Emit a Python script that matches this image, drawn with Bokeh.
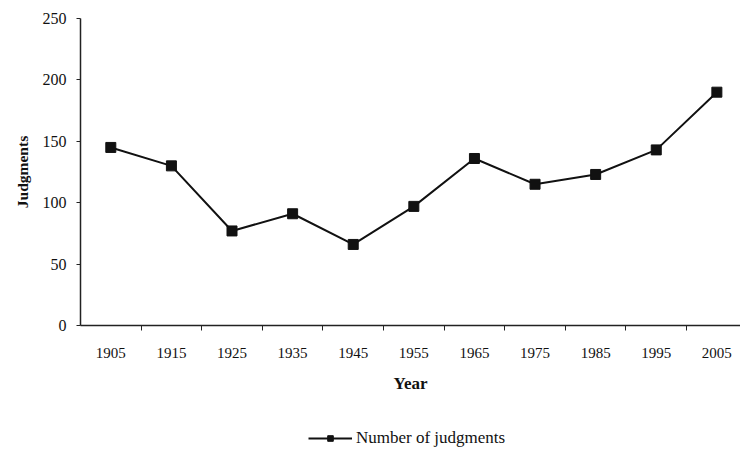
from bokeh.plotting import figure
from bokeh.models import Range1d, FixedTicker, Legend, LegendItem
from bokeh.layouts import column
from bokeh.embed import file_html
from bokeh.resources import INLINE

years = [1905, 1915, 1925, 1935, 1945, 1955, 1965, 1975, 1985, 1995, 2005]
judgments = [145, 130, 77, 91, 66, 97, 136, 115, 123, 143, 190]
bin_edges = [1910, 1920, 1930, 1940, 1950, 1960, 1970, 1980, 1990, 2000]
y_ticks = [0, 50, 100, 150, 200, 250]
series_name = "Number of judgments"

FONT = "Liberation Serif"
INK = "#111111"

p = figure(width=740, height=400, output_backend="svg", toolbar_location=None,
           x_range=Range1d(1900, 2008.9), y_range=Range1d(0, 250),
           min_border_left=80, min_border_right=0, min_border_top=18, min_border_bottom=75)
p.outline_line_color = None
p.xgrid.visible = False
p.ygrid.visible = False

ln = p.line(years, judgments, line_color=INK, line_width=2)
sc = p.scatter(years, judgments, marker="square", size=10, fill_color=INK, line_color=INK)

xa = p.xaxis[0]
xa.ticker = FixedTicker(ticks=years, minor_ticks=bin_edges)
xa.major_tick_out = 5
xa.major_tick_in = 0
xa.major_tick_line_color = None
xa.minor_tick_out = 5
xa.minor_tick_in = 0
xa.minor_tick_line_color = "#222222"
xa.axis_line_color = "#222222"
xa.axis_line_width = 1.5
xa.major_label_text_font = FONT
xa.major_label_text_font_size = "15px"
xa.major_label_text_color = INK
xa.major_label_standoff = 17
xa.axis_label = "Year"
xa.axis_label_text_font = FONT
xa.axis_label_text_font_style = "bold"
xa.axis_label_text_font_size = "17px"
xa.axis_label_text_color = INK
xa.axis_label_standoff = 13

ya = p.yaxis[0]
ya.ticker = FixedTicker(ticks=y_ticks)
ya.major_tick_out = 4
ya.major_tick_in = 0
ya.minor_tick_out = 0
ya.minor_tick_in = 0
ya.major_tick_line_color = "#222222"
ya.axis_line_color = "#222222"
ya.axis_line_width = 1.5
ya.major_label_text_font = FONT
ya.major_label_text_font_size = "16px"
ya.major_label_text_color = INK
ya.major_label_standoff = 10
ya.axis_label = "Judgments"
ya.axis_label_text_font = FONT
ya.axis_label_text_font_style = "bold"
ya.axis_label_text_font_size = "15.5px"
ya.axis_label_text_color = INK
ya.axis_label_standoff = 9

# legend strip below the chart (series drawn off-screen, only the legend shows)
lg = figure(width=740, height=49, output_backend="svg", toolbar_location=None,
            x_range=Range1d(0, 1), y_range=Range1d(0, 1),
            min_border_left=0, min_border_right=0, min_border_top=0, min_border_bottom=0)
lg.axis.visible = False
lg.xgrid.visible = False
lg.ygrid.visible = False
lg.outline_line_color = None
lln = lg.line(years, judgments, line_color=INK, line_width=2)
lsc = lg.scatter(years, judgments, marker="square", size=9, fill_color=INK, line_color=INK)
legend = Legend(items=[LegendItem(label=series_name, renderers=[lln, lsc])],
                location=(228, 1), orientation="horizontal",
                border_line_color=None, background_fill_alpha=0,
                glyph_width=44, glyph_height=14,
                label_text_font=FONT, label_text_font_size="17px", label_text_color=INK,
                margin=0, padding=2, label_standoff=4)
lg.add_layout(legend, "center")

layout = column(p, lg, spacing=0)
open("out.html", "w").write(file_html(layout, INLINE))
